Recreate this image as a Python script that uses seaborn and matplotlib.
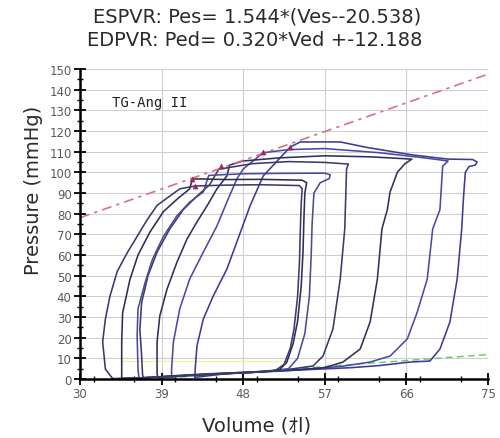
import numpy as np
import pandas as pd
import matplotlib
matplotlib.use("Agg")
import matplotlib.pyplot as plt
from matplotlib.ticker import MultipleLocator, FixedLocator
import seaborn as sns

# ---------------- data ----------------
title_1 = "ESPVR: Pes= 1.544*(Ves--20.538)"
title_2 = "EDPVR: Ped= 0.320*Ved +-12.188"
annotation = "TG-Ang II"
x_label = "Volume (\uff75l)"
y_label = "Pressure (mmHg)"

x_ticks = [30, 39, 48, 57, 66, 75]
y_ticks = list(range(0, 151, 10))

# ESPVR / EDPVR regression coefficients (from the title)
espvr_slope, espvr_v0 = 1.544, -20.538
edpvr_slope, edpvr_icpt = 0.320, -12.188
rel_v = [30, 75]

# pressure-volume loops (V in ul, P in mmHg)
loop_a_v = [42.7, 46, 50, 55, 60, 63, 66.4, 68.6, 69.7, 70.8, 71.6, 72.1, 72.3, 72.5, 72.9, 73.6, 73.8, 73.3,
            70.6, 66.7, 61.7, 58.7, 54.3, 53.2, 50.2, 48.75, 47.3, 46.2, 44.7, 43.6, 42.9, 42.7]
loop_a_p = [0.8, 2.5, 3.5, 4.5, 5.5, 6.5, 8.2, 8.7, 14.5, 27.6, 48.4, 72.6, 88, 100, 102.8, 103.5, 105, 106.2,
            106.4, 108.4, 112, 114.7, 114.7, 112.3, 98.2, 83.7, 66.3, 53.2, 40.2, 29, 16, 4.8]

loop_b_v = [40.1, 44, 48, 52, 56, 59, 62, 64.2, 66.1, 67.2, 68.3, 68.9, 69.7, 70.0, 70.6, 68, 63, 57, 53,
            50.2, 48, 47.3, 46.2, 45.1, 43.6, 42.1, 41, 40.3, 40.1]
loop_b_p = [1, 2.2, 3, 3.8, 5, 6.2, 8.2, 11.1, 19.4, 32.4, 48.4, 72.6, 82, 103, 105.5, 107, 109.5, 111.5, 111,
            109.5, 101.6, 96.8, 85.6, 74, 61.4, 48.4, 33.9, 17.9, 4.8]

loop_c_v = [38.6, 42, 46, 50, 54, 57, 59, 60.9, 62, 62.8, 63.3, 63.9, 64.2, 65, 65.8, 66.6, 62, 57, 52, 48,
            46.5, 46.2, 45.1, 44, 42.9, 41.8, 40.7, 39.6, 38.8, 38.5, 38.5]
loop_c_p = [0.6, 1.8, 2.8, 3.6, 4.5, 5.5, 8.2, 14.5, 27.6, 48.4, 72.6, 82, 90.5, 100, 104, 106.4, 107.5, 108,
            107, 105.5, 103.5, 98.2, 92, 83.7, 76, 67.7, 56.6, 43.5, 30.5, 18, 2.4]

loop_d_v = [37, 40, 44, 48, 52, 55.7, 56.8, 57.9, 58.7, 59.2, 59.3, 59.4, 59.6, 57, 53, 49, 45.3, 44.3, 42.9,
            41.4, 39.9, 38.5, 37.5, 36.8, 36.6, 36.8, 36.9]
loop_d_p = [0.5, 1.5, 2.5, 3.2, 4, 6.3, 11.1, 24.2, 48.4, 72.6, 87, 101.6, 104, 104.8, 105.2, 104.2, 101.5, 94,
            88.5, 82, 72.6, 61.4, 50, 37, 24, 11, 2]

loop_e3_v = [36.5, 40, 44, 48, 51, 53, 54, 54.8, 55.3, 55.5, 55.6, 55.8, 56.5, 57.5, 57.6, 57, 52, 48, 45.5,
             44.2, 43.6, 42.1, 40.7, 39.2, 38, 37.2, 36.4, 36.3, 36.4]
loop_e3_p = [0.5, 1.3, 2.3, 3, 3.8, 5, 10, 22, 40, 60, 75, 90, 95, 97, 98.8, 99.6, 99.5, 99.3, 98.8,
             98.5, 90.5, 85.6, 79, 69, 58, 47, 34, 21, 4.8]

loop_e2_v = [34.6, 38, 42, 46, 50, 52, 52.8, 53.5, 54, 54.4, 54.6, 54.7, 54.8, 55, 54.5, 50, 46, 43.5, 42.4,
             42.1, 40.7, 39.2, 37.7, 36.4, 35.5, 34.7, 34.6, 34.6]
loop_e2_p = [0.3, 0.8, 1.8, 2.6, 3.4, 4.5, 8, 17, 28, 45, 62, 78, 90, 95, 96.2, 96.6, 96.5, 96.8, 96.8,
             92, 87, 81, 71, 60, 48, 32, 18, 3]

loop_e1_v = [33.6, 37, 41, 45, 49, 51.5, 52.5, 53.2, 53.6, 54, 54.2, 54.3, 54.4, 54.5, 54.2, 50, 46, 43.5,
             42.7, 41, 39.9, 38.5, 37.4, 36.3, 35.2, 34.1, 33.3, 32.8, 32.5, 32.8]
loop_e1_p = [0.2, 0.6, 1.5, 2.4, 3.2, 4, 7, 15, 24, 40, 56, 72, 85, 92, 93.6, 94, 93.8, 93.5,
             93.4, 92, 88.5, 84, 77, 69, 61, 52, 40, 29, 18, 4.8]

# end-systolic points marked on the ESPVR
es_v = [53.2, 50.2, 45.6, 42.4, 42.7]
es_p = [112.3, 109.6, 103.2, 96.8, 93.4]

# faint yellow reference line
yellow_v = [34.5, 52.5]
yellow_p = [8.7, 8.7]

loop_names = ["A", "B", "C", "D", "E3", "E2", "E1"]
loop_vs = [loop_a_v, loop_b_v, loop_c_v, loop_d_v, loop_e3_v, loop_e2_v, loop_e1_v]
loop_ps = [loop_a_p, loop_b_p, loop_c_p, loop_d_p, loop_e3_p, loop_e2_p, loop_e1_p]
loop_colors = {"A": "#3c3c94", "B": "#4a4aa6", "C": "#30305c", "D": "#3a3a6c",
               "E3": "#4c4c96", "E2": "#2e2e50", "E1": "#3a3a6e"}

# ---------------- build tables ----------------
rows = []
for name, vs, ps in zip(loop_names, loop_vs, loop_ps):
    vs_c = list(vs) + [vs[0]]
    ps_c = list(ps) + [ps[0]]
    for i, (v, p) in enumerate(zip(vs_c, ps_c)):
        rows.append({"loop": name, "V": v, "P": p, "i": i})
loops_df = pd.DataFrame(rows)

espvr_df = pd.DataFrame({"V": rel_v, "P": [espvr_slope * (v - espvr_v0) for v in rel_v]})
edpvr_df = pd.DataFrame({"V": rel_v, "P": [edpvr_slope * v + edpvr_icpt for v in rel_v]})
es_df = pd.DataFrame({"V": es_v, "P": es_p})
yel_df = pd.DataFrame({"V": yellow_v, "P": yellow_p})

# ---------------- plot ----------------
sns.set_theme(style="white")
plt.rcParams["font.family"] = ["DejaVu Sans", "Noto Sans CJK JP"]

fig = plt.figure(figsize=(5.0, 4.39), dpi=100)
ax = fig.add_axes([80 / 500, 1 - 380 / 439, 408 / 500, 310 / 439])

sns.lineplot(data=yel_df, x="V", y="P", color="#f2f0a8", lw=1.0, ax=ax, sort=False)
sns.lineplot(data=edpvr_df, x="V", y="P", color="#6cc46c", lw=1.0, ax=ax,
             linestyle=(0, (5, 3)), sort=False)
sns.lineplot(data=loops_df, x="V", y="P", hue="loop", units="loop", estimator=None, sort=False,
             palette=loop_colors, lw=1.15, legend=False, ax=ax)
sns.lineplot(data=espvr_df, x="V", y="P", color="#d8708e", lw=1.2, ax=ax,
             linestyle=(0, (6, 3, 2, 3)), sort=False)
sns.scatterplot(data=es_df, x="V", y="P", color="#a02858", marker="^", s=14, ax=ax,
                edgecolor="#a02858", zorder=5)

ax.set_xlim(30, 75)
ax.set_ylim(0, 150)
ax.xaxis.set_major_locator(FixedLocator(x_ticks))
ax.xaxis.set_minor_locator(MultipleLocator(4.5))
ax.yaxis.set_major_locator(FixedLocator(y_ticks))
ax.yaxis.set_minor_locator(MultipleLocator(5))
ax.set_xlabel("")
ax.set_ylabel("")

ax.grid(True, which="major", color="#cfcfcf", lw=0.8)
ax.set_axisbelow(True)
for s in ["top", "right"]:
    ax.spines[s].set_visible(False)
for s in ["left", "bottom"]:
    ax.spines[s].set_color("black")
    ax.spines[s].set_linewidth(1.8)
ax.tick_params(axis="both", which="major", direction="inout", length=8, width=1.3,
               color="black", labelsize=8.5, labelcolor="#5a5a5a", pad=2)
ax.tick_params(axis="both", which="minor", direction="inout", length=4, width=1.0, color="black")
ax.tick_params(axis="x", which="both", bottom=True)
ax.tick_params(axis="y", which="both", left=True)

ax.text(33.5, 134, annotation, family="DejaVu Sans Mono", fontsize=10, color="#222222",
        ha="left", va="center")

fig.text(257 / 500, 1 - 17 / 439, title_1, ha="center", va="center", fontsize=14, color="#2a2a2a")
fig.text(255 / 500, 1 - 40 / 439, title_2, ha="center", va="center", fontsize=14, color="#2a2a2a")
fig.text(257 / 500, 1 - 426 / 439, x_label, ha="center", va="center", fontsize=14, color="#2a2a2a")
fig.text(34 / 500, 1 - 190 / 439, y_label, ha="center", va="center", fontsize=14,
         rotation=90, color="#2a2a2a")

fig.savefig("out.png", dpi=100, facecolor="white")
